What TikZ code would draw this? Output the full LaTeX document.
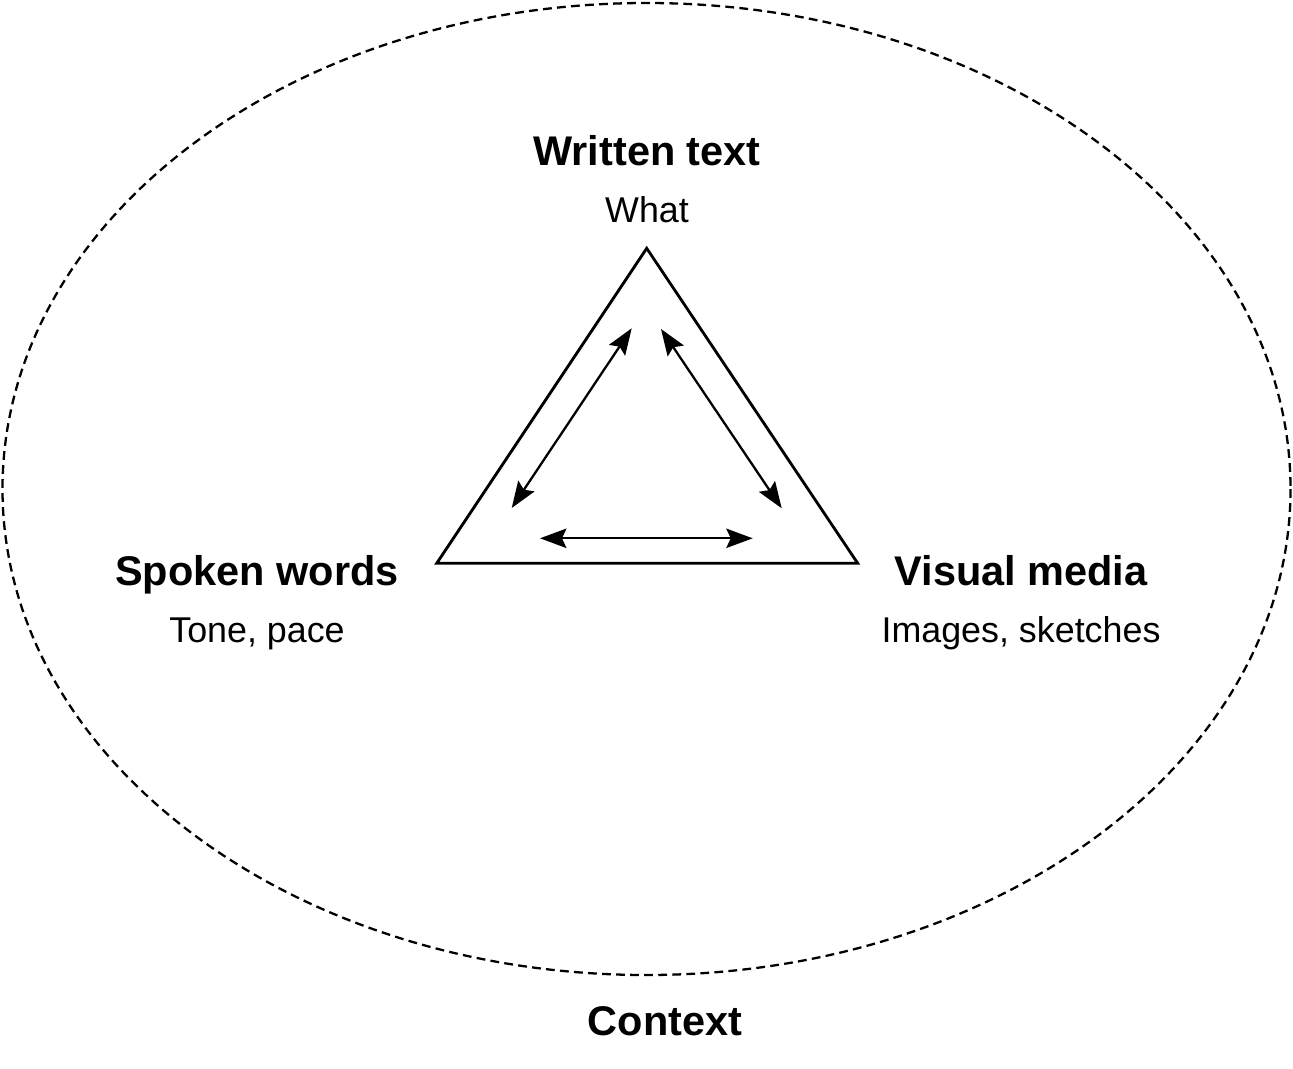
\documentclass[tikz,border=0pt]{standalone}
\usepackage{fontspec}
\setmainfont{Liberation Sans}
\usetikzlibrary{arrows.meta,positioning,calc}
\definecolor{ink}{HTML}{000000}

\begin{document}
\begin{tikzpicture}[x=0.02cm, y=-0.02cm,
  title/.style={font=\fontsize{23.6}{28}\selectfont\bfseries, text=ink, anchor=base, inner sep=0pt},
  sub/.style={font=\fontsize{20.4}{24}\selectfont, text=ink, anchor=base, inner sep=0pt},
  frame/.style={draw=ink, line width=1.3pt, dash pattern=on 5pt off 3pt},
  tri/.style={draw=ink, line width=1.6pt, line join=miter},
  link/.style={draw=ink, line width=1.3pt, {Stealth[length=15pt, width=11pt, inset=2.5pt]}-{Stealth[length=15pt, width=11pt, inset=2.5pt]}}]
\useasboundingbox (0,0) rectangle (1293,1068);
% ---------------- context
\draw[frame] (646.5,489) ellipse [x radius=644, y radius=486];
\node[title] (ctx) at (665,1035) {Context};
% ---------------- triangle
\coordinate (top) at (646.7,248.3);
\coordinate (bl) at (436.7,563.3);
\coordinate (br) at (857.7,563.3);
\draw[tri] (top) -- (bl) -- (br) -- cycle;
% ---------------- links between the modes
\coordinate (l1) at (511.7,508);  \coordinate (l2) at (631.7,328.3);
\coordinate (r1) at (661,329);    \coordinate (r2) at (781.7,508.3);
\coordinate (b1) at (540,538.3);  \coordinate (b2) at (752.7,538.3);
\draw[link] (l1) -- (l2);
\draw[link] (r1) -- (r2);
\draw[link] (b1) -- (b2);
% ---------------- labels
\node[title] (wt) at (647,165) {Written text};
\node[sub] (wtsub) at (647,222) {What};
\node[title] (sw) at (257,585) {Spoken words};
\node[sub] (swsub) at (257,642) {Tone, pace};
\node[title] (vm) at (1021,585) {Visual media};
\node[sub] (vmsub) at (1021,642) {Images, sketches};
\end{tikzpicture}
\end{document}
